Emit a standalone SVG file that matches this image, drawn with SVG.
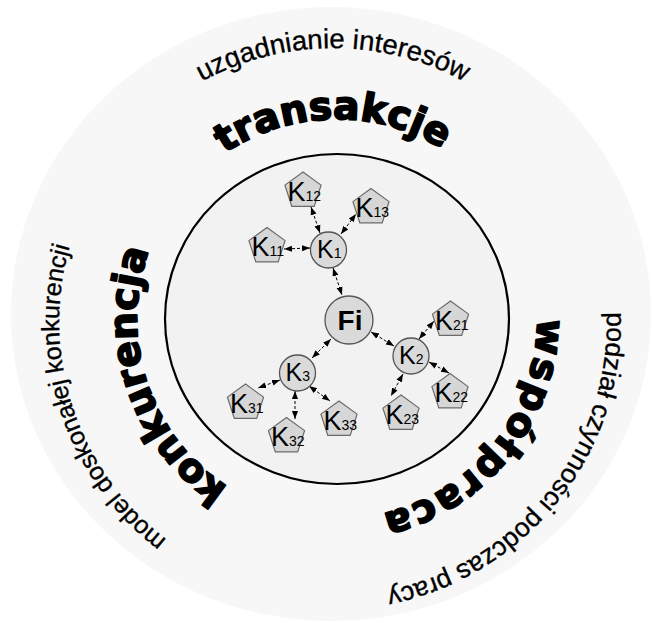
<svg xmlns="http://www.w3.org/2000/svg" width="652" height="623" viewBox="0 0 652 623">
<style>
.small{font-family:"Liberation Sans",Arial,sans-serif;font-size:26.5px;fill:#000;stroke:#000;stroke-width:0.35}
.bold{font-family:"DejaVu Sans",sans-serif;font-weight:bold;font-size:39px;fill:#000;stroke:#000;stroke-width:1.8;stroke-linejoin:round}
.pent{fill:#d6d6d6;stroke:#6a6a6a;stroke-width:1.2}
.circ{fill:#dadada;stroke:#555;stroke-width:1.3}
.lbl{font-family:"Liberation Sans",Arial,sans-serif;font-size:25px;fill:#000}
.plbl{font-family:"Liberation Sans",Arial,sans-serif;font-size:27px;fill:#000}
.sub{font-size:14px}
.conn{stroke:#000;stroke-width:1;stroke-dasharray:3 2;fill:none;marker-start:url(#ah);marker-end:url(#ah)}
</style>
<defs>
<marker id="ah" viewBox="0 0 10 10" refX="10" refY="5" markerWidth="8" markerHeight="8" markerUnits="userSpaceOnUse" orient="auto-start-reverse">
<path d="M0,1.2 L10,5 L0,8.8 z" fill="#000"/>
</marker>
<polygon id="pent" points="0,-17 18.07,-3.87 11.17,17.37 -11.17,17.37 -18.07,-3.87"/>
<path id="pTopS" d="M63.2,274.4 A274,274 0 0,1 602.8,274.4"/>
<path id="pLeftS" d="M372.6,593.1 A274,274 0 0,1 203.1,80.8"/>
<path id="pRightS" d="M537.7,139.9 A274,274 0 0,1 202.9,563.1"/>
<path id="pTopB" d="M139.4,288.4 A200,200 0 0,1 533.2,280.2"/>
<path id="pLeftB" d="M366.6,516.8 A200,200 0 0,1 241.6,143.2"/>
<path id="pRightB" d="M487,186.7 A200,200 0 0,1 241.3,494.6"/>
</defs>
<rect width="652" height="623" fill="#fff"/>
<ellipse id="outer" cx="331" cy="314" rx="320" ry="307" fill="#f7f7f7"/>
<ellipse id="inner" cx="337" cy="319" rx="172" ry="165" fill="#f2f2f2" stroke="#000" stroke-width="2.2"/>

<g id="labels">
<text class="small" style="font-size:27.5px"><textPath href="#pTopS" startOffset="50%" text-anchor="middle">uzgadnianie interesów</textPath></text>
<text class="small" style="font-size:25px"><textPath href="#pLeftS" startOffset="50%" text-anchor="middle">model doskonałej konkurencji</textPath></text>
<text class="small"><textPath href="#pRightS" startOffset="50%" text-anchor="middle">podział czynności podczas pracy</textPath></text>
<text class="bold"><textPath href="#pTopB" startOffset="50%" text-anchor="middle">transakcje</textPath></text>
<text class="bold"><textPath href="#pLeftB" startOffset="50%" text-anchor="middle">konkurencja</textPath></text>
<text class="bold" style="letter-spacing:2px"><textPath href="#pRightB" startOffset="50%" text-anchor="middle">współpraca</textPath></text>
</g>

<g id="connectors">
<line class="conn" x1="333" y1="268" x2="342" y2="295"/>
<line class="conn" x1="310" y1="248" x2="284" y2="249"/>
<line class="conn" x1="320" y1="233" x2="311" y2="207"/>
<line class="conn" x1="341" y1="234" x2="356" y2="214"/>
<line class="conn" x1="371" y1="332" x2="394" y2="346"/>
<line class="conn" x1="331" y1="339" x2="312" y2="358"/>
<line class="conn" x1="419" y1="339" x2="434" y2="321"/>
<line class="conn" x1="429" y1="362" x2="449" y2="373"/>
<line class="conn" x1="403" y1="374" x2="391" y2="396"/>
<line class="conn" x1="280" y1="380" x2="258" y2="388"/>
<line class="conn" x1="295" y1="391" x2="295" y2="419"/>
<line class="conn" x1="309" y1="386" x2="330" y2="401"/>
</g>

<g id="Fi">
<circle class="circ" cx="349" cy="320" r="24"/>
<text x="350" y="330" text-anchor="middle" style="font-family:'Liberation Sans',Arial,sans-serif;font-weight:bold;font-size:28px">Fi</text>
</g>
<g id="K1">
<circle class="circ" cx="328.5" cy="250" r="18"/>
<text class="lbl" x="317" y="258">K<tspan class="sub">1</tspan></text>
</g>
<g id="K2">
<circle class="circ" cx="411" cy="356" r="18"/>
<text class="lbl" x="399" y="364">K<tspan class="sub">2</tspan></text>
</g>
<g id="K3">
<circle class="circ" cx="297.5" cy="373" r="18"/>
<text class="lbl" x="285.5" y="381">K<tspan class="sub">3</tspan></text>
</g>

<g id="K11"><use href="#pent" class="pent" x="267" y="244.5"/><text class="plbl" x="251.5" y="256">K<tspan class="sub">11</tspan></text></g>
<g id="K12"><use href="#pent" class="pent" x="303" y="189"/><text class="plbl" x="287.5" y="200.5">K<tspan class="sub">12</tspan></text></g>
<g id="K13"><use href="#pent" class="pent" x="371" y="205.5"/><text class="plbl" x="355.5" y="217">K<tspan class="sub">13</tspan></text></g>
<g id="K21"><use href="#pent" class="pent" x="450.5" y="318"/><text class="plbl" x="435" y="329.5">K<tspan class="sub">21</tspan></text></g>
<g id="K22"><use href="#pent" class="pent" x="450" y="390.5"/><text class="plbl" x="434.5" y="402">K<tspan class="sub">22</tspan></text></g>
<g id="K23"><use href="#pent" class="pent" x="401" y="412"/><text class="plbl" x="385.5" y="423.5">K<tspan class="sub">23</tspan></text></g>
<g id="K31"><use href="#pent" class="pent" x="245.5" y="401"/><text class="plbl" x="230" y="412.5">K<tspan class="sub">31</tspan></text></g>
<g id="K32"><use href="#pent" class="pent" x="286.5" y="434.5"/><text class="plbl" x="271" y="446">K<tspan class="sub">32</tspan></text></g>
<g id="K33"><use href="#pent" class="pent" x="339" y="418"/><text class="plbl" x="323.5" y="429.5">K<tspan class="sub">33</tspan></text></g>
</svg>
